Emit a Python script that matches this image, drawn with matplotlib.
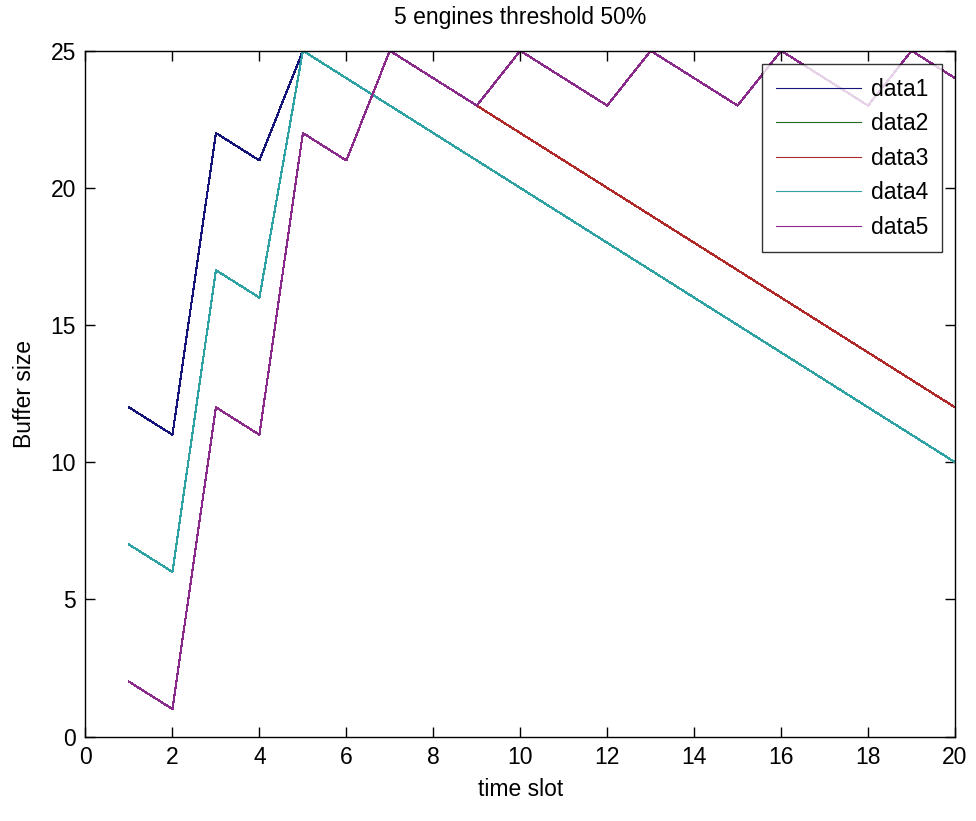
import numpy as np
import matplotlib
matplotlib.use("Agg")
import matplotlib.pyplot as plt

# dados
time_slot = list(range(1, 21))
data1 = [12, 11, 22, 21, 25, 24, 23, 22, 21, 20, 19, 18, 17, 16, 15, 14, 13, 12, 11, 10]
data2 = [7, 6, 17, 16, 25, 24, 23, 22, 21, 20, 19, 18, 17, 16, 15, 14, 13, 12, 11, 10]
data3 = [2, 1, 12, 11, 22, 21, 25, 24, 23, 22, 21, 20, 19, 18, 17, 16, 15, 14, 13, 12]
data4 = [7, 6, 17, 16, 25, 24, 23, 22, 21, 20, 19, 18, 17, 16, 15, 14, 13, 12, 11, 10]
data5 = [2, 1, 12, 11, 22, 21, 25, 24, 23, 25, 24, 23, 25, 24, 23, 25, 24, 23, 25, 24]

series = [data1, data2, data3, data4, data5]
labels = ["data1", "data2", "data3", "data4", "data5"]
cores = ["#14147a", "#1f6a1f", "#b02828", "#2fa3a3", "#8a2a8a"]

plt.rcParams['font.family'] = ['Liberation Sans', 'DejaVu Sans']
FS = 16.5

fig = plt.figure(figsize=(9.76, 8.21), dpi=100)
ax = fig.add_axes([0.0876, 0.1029, 0.8909, 0.8353])

for y, lab, c in zip(series, labels, cores):
    ax.plot(time_slot, y, color=c, lw=0.8, label=lab, antialiased=False)

ax.set_xlim(0, 20)
ax.set_ylim(0, 25)
ax.set_xticks(np.arange(0, 21, 2))
ax.set_yticks(np.arange(0, 26, 5))
ax.tick_params(direction='in', length=7, width=1, top=True, right=True,
               labelsize=FS)
ax.tick_params(axis='x', pad=7)
ax.tick_params(axis='y', pad=7)
for s in ax.spines.values():
    s.set_linewidth(1.0)

ax.set_title("5 engines threshold 50%", fontsize=FS, pad=19)
ax.set_xlabel("time slot", fontsize=FS, labelpad=6)
ax.set_ylabel("Buffer size", fontsize=FS, labelpad=10)

leg = ax.legend(loc='upper right', bbox_to_anchor=(942 / 976, (821 - 64) / 821),
                bbox_transform=fig.transFigure, borderaxespad=0, fontsize=FS,
                frameon=True, fancybox=False, handlelength=3.7, handletextpad=0.45,
                labelspacing=0.5, borderpad=0.6)
leg.get_frame().set_edgecolor('black')
leg.get_frame().set_linewidth(1.0)

fig.savefig("out.png", dpi=100)
